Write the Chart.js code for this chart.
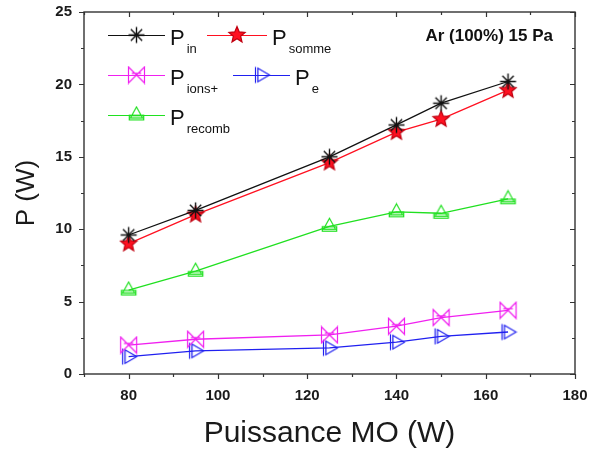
<!DOCTYPE html>
<html>
<head>
<meta charset="utf-8">
<script src="https://cdn.jsdelivr.net/npm/chart.js@4.4.1/dist/chart.umd.min.js"></script>
<style>
  body { margin: 0; background: #fff; }
  #wrap { width: 591px; height: 458px; }
</style>
</head>
<body>
<div id="wrap"><canvas id="chart" width="591" height="458"></canvas></div>
<script>
// données
const puissance = [80, 95, 125, 140, 150, 165];
const pIn     = [9.6, 11.3, 15.0, 17.2, 18.7, 20.2];
const pSomme  = [9.0, 11.0, 14.6, 16.7, 17.6, 19.6];
const pIons   = [2.0, 2.4, 2.7, 3.3, 3.9, 4.4];
const pE      = [1.2, 1.6, 1.8, 2.2, 2.6, 2.9];
const pRecomb = [5.8, 7.1, 10.2, 11.2, 11.1, 12.1];

const xMajor = 20, yMajor = 5;
const FONT = 'Arial, "Liberation Sans", Helvetica, sans-serif';
const INK = '#1a1a1a';

// marqueurs façon Origin
function makeMarker(size, draw) {
    const c = document.createElement('canvas');
    c.width = c.height = size;
    const g = c.getContext('2d');
    g.translate(size / 2, size / 2);
    g.lineWidth = 1.2;
    draw(g, size / 2 - 1.5);
    return c;
}

const mkIn = makeMarker(19, (g, r) => {
    g.strokeStyle = '#111';
    g.lineWidth = 1.4;
    g.beginPath();
    for (let i = 0; i < 4; i++) {
        const a = i * Math.PI / 4;
        g.moveTo(Math.cos(a) * r, Math.sin(a) * r);
        g.lineTo(-Math.cos(a) * r, -Math.sin(a) * r);
    }
    g.stroke();
});

const mkSomme = makeMarker(20, (g, r) => {
    g.beginPath();
    for (let i = 0; i < 10; i++) {
        const a = -Math.PI / 2 + i * Math.PI / 5;
        const rr = i % 2 ? r * 0.45 : r;
        g.lineTo(Math.cos(a) * rr, Math.sin(a) * rr);
    }
    g.closePath();
    g.fillStyle = '#ff1020';
    g.fill();
    g.strokeStyle = '#c00010';
    g.stroke();
});

const mkIons = makeMarker(19, (g, r) => {
    g.strokeStyle = '#f020f0';
    g.beginPath();
    g.moveTo(-r, -r); g.lineTo(r, r); g.lineTo(r, -r); g.lineTo(-r, r); g.closePath();
    g.moveTo(-r * 0.6, -r * 0.2); g.lineTo(r * 0.6, -r * 0.2);
    g.stroke();
});

const mkE = makeMarker(19, (g, r) => {
    g.strokeStyle = '#2020f0';
    g.beginPath();
    g.moveTo(-r * 0.45, -r * 0.85); g.lineTo(r, 0); g.lineTo(-r * 0.45, r * 0.85); g.closePath();
    g.moveTo(-r * 0.75, -r); g.lineTo(-r * 0.75, r);
    g.stroke();
});

const mkRecomb = makeMarker(19, (g, r) => {
    g.strokeStyle = '#20e020';
    g.beginPath();
    g.moveTo(0, -r); g.lineTo(r * 0.75, r * 0.35); g.lineTo(-r * 0.75, r * 0.35); g.closePath();
    g.rect(-r * 0.9, r * 0.05, r * 1.8, r * 0.55);
    g.stroke();
});

function serie(data, color, marker, sub) {
    return {
        data: puissance.map((x, i) => ({ x: x, y: data[i] })),
        borderColor: color,
        backgroundColor: color,
        borderWidth: 1.3,
        pointStyle: marker,
        pointRadius: 8,
        tension: 0,
        sub: sub
    };
}

const datasets = [
    serie(pIn, '#111111', mkIn, 'in'),
    serie(pSomme, '#ff1020', mkSomme, 'somme'),
    serie(pIons, '#f020f0', mkIons, 'ions+'),
    serie(pE, '#2020f0', mkE, 'e'),
    serie(pRecomb, '#20e020', mkRecomb, 'recomb')
];

// légende : [x début ligne, x fin ligne, y]
const legendPos = [[108, 165, 35], [207, 267, 35], [108, 165, 75], [233, 290, 75], [108, 165, 115]];

// pas de marge automatique pour les étiquettes
function noPad(s) {
    s.paddingTop = 0; s.paddingBottom = 0;
    s.paddingLeft = 0; s.paddingRight = 0;
}

const framePlugin = {
    id: 'frame',
    afterDraw(chart) {
        const ctx = chart.ctx;
        const { left, right, top, bottom } = chart.chartArea;
        const sx = chart.scales.x, sy = chart.scales.y;
        ctx.save();
        ctx.strokeStyle = '#333';
        ctx.lineWidth = 1.4;
        ctx.strokeRect(left, top, right - left, bottom - top);
        ctx.lineWidth = 1.2;
        ctx.beginPath();
        sx.ticks.forEach(t => {
            const px = Math.round(sx.getPixelForValue(t.value)) + 0.5;
            const len = t.value % xMajor === 0 ? 5 : 3;
            ctx.moveTo(px, bottom); ctx.lineTo(px, bottom + len);
            ctx.moveTo(px, top); ctx.lineTo(px, top + len);
        });
        sy.ticks.forEach(t => {
            const py = Math.round(sy.getPixelForValue(t.value)) + 0.5;
            const len = t.value % yMajor === 0 ? 5 : 3;
            ctx.moveTo(left, py); ctx.lineTo(left - len, py);
            ctx.moveTo(right, py); ctx.lineTo(right - len, py);
        });
        ctx.stroke();

        // légende avec indices
        chart.data.datasets.forEach((ds, i) => {
            const [x1, x2, y] = legendPos[i];
            ctx.strokeStyle = ds.borderColor;
            ctx.lineWidth = 1.1;
            ctx.beginPath();
            ctx.moveTo(x1, y + 0.5); ctx.lineTo(x2, y + 0.5);
            ctx.stroke();
            const m = ds.pointStyle;
            ctx.drawImage(m, (x1 + x2) / 2 - m.width / 2, y - m.height / 2);
            ctx.fillStyle = '#111';
            ctx.textAlign = 'left';
            ctx.textBaseline = 'alphabetic';
            ctx.font = '22px ' + FONT;
            const px = x2 + 5;
            ctx.fillText('P', px, y + 10);
            const w = ctx.measureText('P').width;
            ctx.font = '13px ' + FONT;
            ctx.fillText(ds.sub, px + w + 2, y + 18);
        });

        ctx.font = 'bold 17px ' + FONT;
        ctx.textAlign = 'right';
        ctx.fillStyle = '#111';
        ctx.fillText('Ar (100%) 15 Pa', 553, 41);
        ctx.restore();
    }
};

new Chart(document.getElementById('chart'), {
    type: 'line',
    data: { datasets: datasets },
    options: {
        responsive: false,
        animation: false,
        layout: { padding: { top: 12, right: 16, left: 0, bottom: 0 } },
        plugins: {
            legend: { display: false },
            tooltip: { enabled: false }
        },
        scales: {
            x: {
                type: 'linear',
                min: 70,
                max: 180,
                grid: { display: false, drawTicks: false },
                border: { display: false },
                ticks: {
                    stepSize: 10,
                    autoSkip: false,
                    maxRotation: 0,
                    padding: 13,
                    color: INK,
                    font: { family: FONT, size: 15, weight: 'bold' },
                    callback: v => v % xMajor === 0 ? v : ''
                },
                title: {
                    display: true,
                    text: 'Puissance MO (W)',
                    color: INK,
                    font: { family: FONT, size: 30 },
                    padding: { top: 0, bottom: 6 }
                },
                afterFit: s => { s.height = 84; noPad(s); }
            },
            y: {
                min: 0,
                max: 25,
                grid: { display: false, drawTicks: false },
                border: { display: false },
                ticks: {
                    stepSize: 2.5,
                    autoSkip: false,
                    padding: 12,
                    color: INK,
                    font: { family: FONT, size: 15, weight: 'bold' },
                    callback: v => v % yMajor === 0 ? v : ''
                },
                title: {
                    display: true,
                    text: 'P (W)',
                    color: INK,
                    font: { family: FONT, size: 26 },
                    padding: { top: 11, bottom: 0 }
                },
                afterFit: s => { s.width = 84; noPad(s); }
            }
        }
    },
    plugins: [framePlugin]
});
</script>
</body>
</html>
